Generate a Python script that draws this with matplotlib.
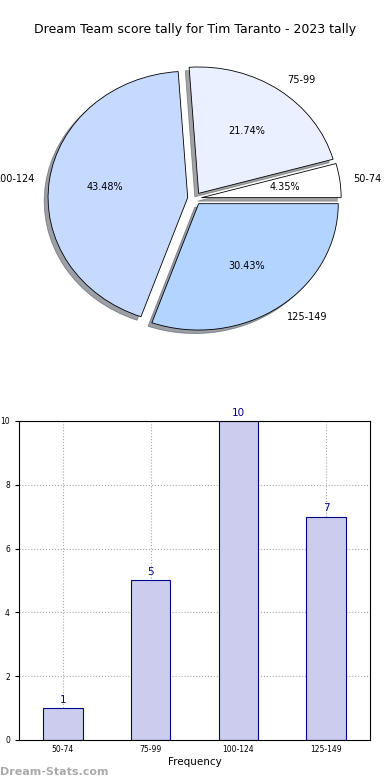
import matplotlib
matplotlib.use("Agg")
import matplotlib.pyplot as plt

# data
categories = ["50-74", "75-99", "100-124", "125-149"]
counts = [1, 5, 10, 7]
pie_colors = ["#ffffff", "#eaf0ff", "#c6d9ff", "#b3d4ff"]
title = "Dream Team score tally for Tim Taranto - 2023 tally"

fig = plt.figure(figsize=(3.9, 7.8), dpi=100)
fig.text(0.5, 1 - 30 / 780, title, ha="center", va="center", fontsize=9)

# pie
ax1 = fig.add_axes([0.0515, 0.543, 0.895, 0.405])
wedges, texts, autotexts = ax1.pie(counts, labels=categories, colors=pie_colors,
                                   explode=[0.05] * 4, autopct="%.2f%%", shadow=True,
                                   startangle=0, counterclock=True,
                                   wedgeprops=dict(edgecolor="black", linewidth=0.6),
                                   textprops=dict(fontsize=7))
ax1.set_aspect("auto")
ax1.set_xlim(-1.25, 1.25)
ax1.set_ylim(-1.25, 1.25)

# bars
ax2 = fig.add_axes([0.0487, 0.0513, 0.9, 0.409])
x = list(range(len(categories)))
bars = ax2.bar(x, counts, width=0.45, color="#ccccee", edgecolor="#000088", linewidth=0.8, zorder=2)
for xi, c in zip(x, counts):
    ax2.text(xi, c + 0.1, str(c), ha="center", va="bottom", fontsize=7.5, color="#000088")
ax2.set_xlim(-0.5, 3.5)
ax2.set_ylim(0, 10)
ax2.set_xticks(x)
ax2.set_xticklabels(categories, fontsize=5.5)
ax2.set_yticks([0, 2, 4, 6, 8, 10])
ax2.tick_params(axis="y", labelsize=5.5, length=3, direction="out")
ax2.tick_params(axis="x", length=0)
ax2.grid(True, linestyle=":", color="#aaaaaa", linewidth=0.8, zorder=0)
ax2.set_axisbelow(True)
ax2.set_xlabel("Frequency", fontsize=7.5, labelpad=2)
ax2.set_ylabel("Distribution", fontsize=7)
ax2.yaxis.set_label_coords(-0.065, 0.5)

fig.text(0.0, 8 / 780, "Dream-Stats.com", fontsize=8, color="#aaaaaa",
         fontweight="bold", ha="left", va="center")

fig.savefig("out.png", dpi=100)
